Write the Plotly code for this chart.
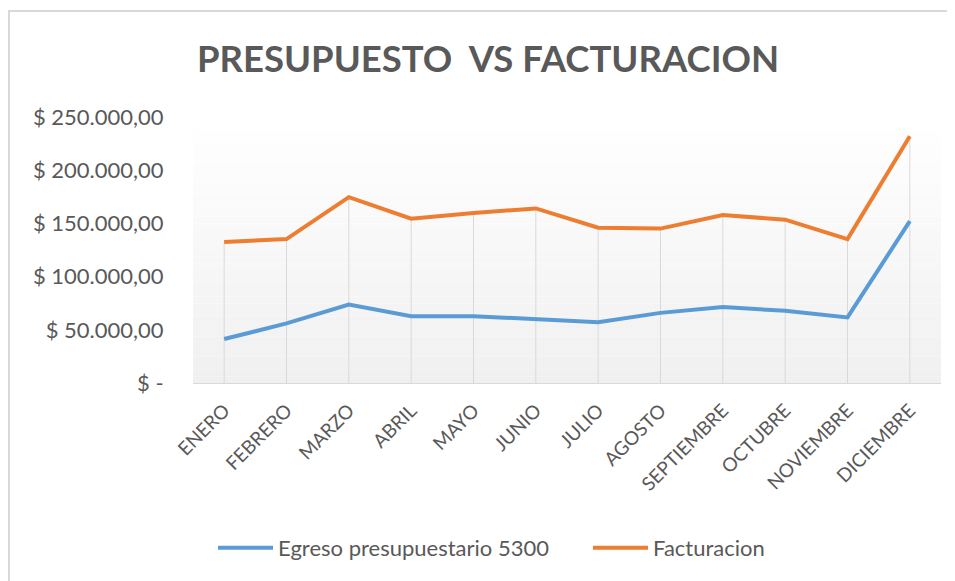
import plotly.graph_objects as go

meses = ["ENERO", "FEBRERO", "MARZO", "ABRIL", "MAYO", "JUNIO", "JULIO",
         "AGOSTO", "SEPTIEMBRE", "OCTUBRE", "NOVIEMBRE", "DICIEMBRE"]
egreso = [41300, 56000, 73800, 62800, 62800, 60300, 57200, 65900, 71500, 67800, 61600, 152200]
facturacion = [132500, 135300, 174700, 154400, 159700, 164100, 146000, 145100, 157800, 153500, 135300, 231900]
y_ticks = [0, 50000, 100000, 150000, 200000, 250000]
y_labels = ["$ -", "$ 50.000,00", "$ 100.000,00", "$ 150.000,00", "$ 200.000,00", "$ 250.000,00"]

FONT = "Lato"
GRAY = "#595959"

W, H = 947, 573
L, R, T, B = 185, 14, 109, 198
PW, PH = W - L - R, H - T - B

fig = go.Figure()

# drop lines (from axis up to highest point per category)
dx, dy = [], []
for i, m in enumerate(meses):
    dx += [m, m, None]
    dy += [0, max(egreso[i], facturacion[i]), None]
fig.add_trace(go.Scatter(x=dx, y=dy, mode="lines", line=dict(color="#d9d9d9", width=1),
                         hoverinfo="skip", showlegend=False))

fig.add_trace(go.Scatter(x=meses, y=egreso, mode="lines", name="Egreso presupuestario 5300",
                         line=dict(color="#5B9BD5", width=4), legendwidth=305))
fig.add_trace(go.Scatter(x=meses, y=facturacion, mode="lines", name="Facturacion",
                         line=dict(color="#ED7D31", width=4)))

# gradient plot background
shapes = []
n = 40
for k in range(n):
    t = k / (n - 1)
    c = int(round(255 - (255 - 240) * t))
    shapes.append(dict(type="rect", xref="x domain", yref="y domain",
                       x0=0, x1=1, y0=1 - (k + 1) / n, y1=1 - k / n,
                       fillcolor=f"rgb({c},{c},{c})", line=dict(width=0), layer="below"))
# outer chart border
shapes.append(dict(type="rect", xref="paper", yref="paper",
                   x0=(1 - L) / PW, x1=1.3, y0=-1.5, y1=(T + PH - 3) / PH,
                   line=dict(color="#d9d9d9", width=2), fillcolor="rgba(0,0,0,0)", layer="below"))

fig.update_layout(
    width=W, height=H,
    margin=dict(l=L, r=R, t=T, b=B),
    paper_bgcolor="white", plot_bgcolor="rgba(0,0,0,0)",
    shapes=shapes,
    title=dict(text="<b>PRESUPUESTO  VS FACTURACION</b>", x=480 / W, xanchor="center",
               y=1 - 51 / H, yanchor="middle",
               font=dict(family=FONT, size=36.5, color=GRAY)),
    font=dict(family=FONT, color=GRAY),
    legend=dict(orientation="h", x=(205 - L) / PW, xanchor="left", y=-0.62, yanchor="middle",
                font=dict(family=FONT, size=22, color=GRAY), itemwidth=55),
    showlegend=True,
)
fig.update_xaxes(type="category", range=[-0.5, 11.5], showgrid=False, showline=True,
                 linecolor="#d9d9d9", linewidth=1, tickangle=-45,
                 ticks="outside", ticklen=8, tickcolor="rgba(0,0,0,0)",
                 tickfont=dict(family=FONT, size=19, color=GRAY), zeroline=False)
fig.update_yaxes(range=[0, 250000], tickvals=y_ticks, ticktext=y_labels, showgrid=False,
                 zeroline=False, showline=False, ticks="outside", ticklen=24,
                 tickcolor="rgba(0,0,0,0)", tickfont=dict(family=FONT, size=22, color=GRAY))

fig.write_html("out.html")
